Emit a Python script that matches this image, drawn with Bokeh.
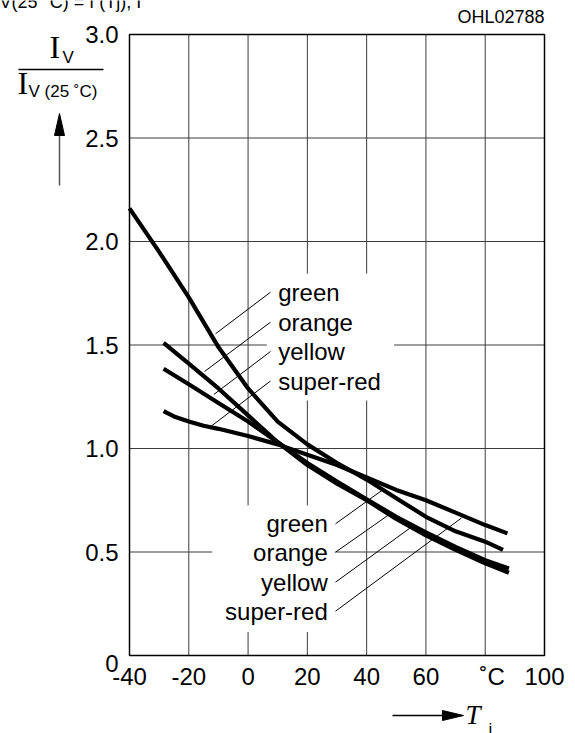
from bokeh.plotting import figure
from bokeh.models import Range1d
from bokeh.core.properties import value
from bokeh.embed import file_html
from bokeh.resources import INLINE

# Relative luminous intensity I_V / I_V(25 °C) versus junction temperature T_j
green_t = [-40, -30, -20, -10, 0, 10, 20, 30, 40, 50, 60, 70, 80, 86]
green_iv = [2.16, 1.95, 1.73, 1.49, 1.29, 1.13, 1.02, 0.93, 0.85, 0.76, 0.67, 0.60, 0.55, 0.51]

orange_t = [-28.5, -20, -10, 0, 10, 20, 30, 40, 50, 60, 70, 80, 88]
orange_iv = [1.51, 1.41, 1.29, 1.16, 1.03, 0.92, 0.83, 0.75, 0.66, 0.58, 0.51, 0.445, 0.40]

yellow_t = [-28.5, -20, -10, 0, 10, 20, 30, 40, 50, 60, 70, 80, 88]
yellow_iv = [1.385, 1.31, 1.22, 1.13, 1.03, 0.93, 0.84, 0.755, 0.67, 0.595, 0.525, 0.46, 0.42]

superred_t = [-28.5, -25, -20, -15, -10, 0, 10, 20, 30, 40, 50, 60, 70, 80, 87.5]
superred_iv = [1.18, 1.155, 1.13, 1.11, 1.095, 1.06, 1.02, 0.97, 0.92, 0.86, 0.80, 0.75, 0.69, 0.63, 0.59]

series_names = ["green", "orange", "yellow", "super-red"]

x_ticks = [-40, -20, 0, 20, 40, 60, 80, 100]
x_tick_labels = ["-40", "-20", "0", "20", "40", "60", "˚C", "100"]
y_ticks = [0, 0.5, 1.0, 1.5, 2.0, 2.5, 3.0]
y_tick_labels = ["0", "0.5", "1.0", "1.5", "2.0", "2.5", "3.0"]

# canvas size and the diagram box inside it (pixels from the left / top / right / bottom edge)
W, H = 575, 733
LEFT, RIGHT, TOP, BOTTOM = 129, 31, 34, 78
X0, X1, Y0, Y1 = -40, 100, 0, 3
KX = (X1 - X0) / (W - LEFT - RIGHT)
KY = (Y1 - Y0) / (H - TOP - BOTTOM)


def dx(px):
    """Canvas pixel column -> temperature value."""
    return X0 + (px - LEFT) * KX


def dy(py):
    """Canvas pixel row -> intensity ratio value."""
    return Y0 + (H - BOTTOM - py) * KY


# the plotting area spans the whole canvas so that the margin texts and arrows can be drawn
p = figure(width=W, height=H,
           x_range=Range1d(dx(0), dx(W)), y_range=Range1d(dy(H), dy(0)),
           x_axis_type=None, y_axis_type=None,
           output_backend="svg", toolbar_location=None, min_border=0)
p.background_fill_color = "white"
p.border_fill_color = "white"
p.outline_line_color = None

SANS = value("Liberation Sans")
SERIF = value("Liberation Serif")

# grid lines, interrupted where the curve labels sit
grid_color = "#3c3c3c"
v_gaps = {0: [(0.113, 0.725)], 20: [(0.113, 0.725), (1.232, 1.845)], 40: [(1.232, 1.845)]}
h_gaps = {0.5: [(-12.1, 29.4)], 1.5: [(6.3, 49.3)]}


def split(lo, hi, gaps):
    parts, start = [], lo
    for a, b in sorted(gaps):
        parts.append((start, a))
        start = b
    parts.append((start, hi))
    return parts


gx0, gy0, gx1, gy1 = [], [], [], []
for xv in x_ticks[1:-1]:
    for a, b in split(Y0, Y1, v_gaps.get(xv, [])):
        gx0.append(xv); gx1.append(xv); gy0.append(a); gy1.append(b)
for yv in y_ticks[1:-1]:
    for a, b in split(X0, X1, h_gaps.get(yv, [])):
        gx0.append(a); gx1.append(b); gy0.append(yv); gy1.append(yv)
p.segment(gx0, gy0, gx1, gy1, line_color=grid_color, line_width=1)

# diagram frame
p.quad(left=[X0], right=[X1], bottom=[Y0], top=[Y1],
       fill_color=None, line_color="black", line_width=1.5)

# tick labels
p.text(x_ticks, [dy(676)] * len(x_ticks), text=x_tick_labels, text_font=SANS,
       text_font_size="24px", text_align="center", text_baseline="middle",
       text_color="black", x_offset=[0, 0, 0, 0, 0, 0, 7, 0])
p.text([dx(118)] * len(y_ticks), y_ticks, text=y_tick_labels, text_font=SANS,
       text_font_size="24px", text_align="right", text_baseline="middle",
       text_color="black", y_offset=[8, 0, 0, 0, 0, 0, 0])

# curves
for t, iv in [(green_t, green_iv), (orange_t, orange_iv),
              (yellow_t, yellow_iv), (superred_t, superred_iv)]:
    p.line(t, iv, line_color="black", line_width=4.2, line_join="round")

# curve labels with leader lines (upper set: left branch, lower set: right branch)
up_text_x = dx(277.7)
up_text_y = [dy(v) for v in (291.7, 321.7, 351.0, 380.5)]
up_lead_x0 = dx(270)
up_lead_x1 = [dx(v) for v in (215, 204, 213.3, 210.7)]
up_lead_y1 = [dy(v) for v in (333.3, 371, 394, 425.7)]

lo_text_x = dx(327.3)
lo_text_y = [dy(v) for v in (523.3, 551.7, 581.7, 610.7)]
lo_lead_x0 = dx(335)
lo_lead_x1 = [dx(v) for v in (383, 388, 413, 461)]
lo_lead_y1 = [dy(v) for v in (488.8, 514.5, 525, 517.5)]

p.segment([up_lead_x0] * 4, up_text_y, up_lead_x1, up_lead_y1, line_color="black", line_width=1)
p.segment([lo_lead_x0] * 4, lo_text_y, lo_lead_x1, lo_lead_y1, line_color="black", line_width=1)

p.text([up_text_x] * 4, up_text_y, text=series_names, text_font=SANS,
       text_font_size="24px", text_align="left", text_baseline="middle", text_color="black")
p.text([lo_text_x] * 4, lo_text_y, text=series_names, text_font=SANS,
       text_font_size="24px", text_align="right", text_baseline="middle", text_color="black")


def label(px, py_mid, text, font=SANS, size="16px", align="left", style="normal"):
    """Text whose vertical middle sits on canvas row py_mid."""
    p.text([dx(px)], [dy(py_mid)], text=[text], text_font=font, text_font_size=size,
           text_align=align, text_baseline="middle", text_color="black",
           text_font_style=style)


def rule(px0, py0, px1, py1, color="black", width=1.5):
    p.segment([dx(px0)], [dy(py0)], [dx(px1)], [dy(py1)], line_color=color, line_width=width)


def head(pxs, pys):
    p.patch([dx(v) for v in pxs], [dy(v) for v in pys],
            fill_color="black", line_color="black", line_width=1)


# y-axis quantity: I_V / I_V(25 °C) with upward arrow
label(49, 46, "I", font=SERIF, size="32px")
label(62, 56.5, "V", size="17px")
rule(18, 69, 103, 69)
label(17, 82.5, "I", font=SERIF, size="32px")
label(28, 91, "V (25 ˚C)", size="17px")
rule(59, 185, 59, 134, color="#555555")
head([54, 59, 64], [135, 113, 135])

# x-axis quantity: T_j with arrow
rule(392, 715, 443, 715)
head([442, 463, 442], [710, 715, 720])
label(465, 714, "T", font=SERIF, size="27px", style="italic")
label(488, 729, "j", size="17px")

# drawing number and heading line
label(544, 16.5, "OHL02788", size="18px", align="right")
label(-1, 1.5, "V(25 °C)  =  f (Tj),  I", size="18px")

open("out.html", "w").write(file_html(p, INLINE))
